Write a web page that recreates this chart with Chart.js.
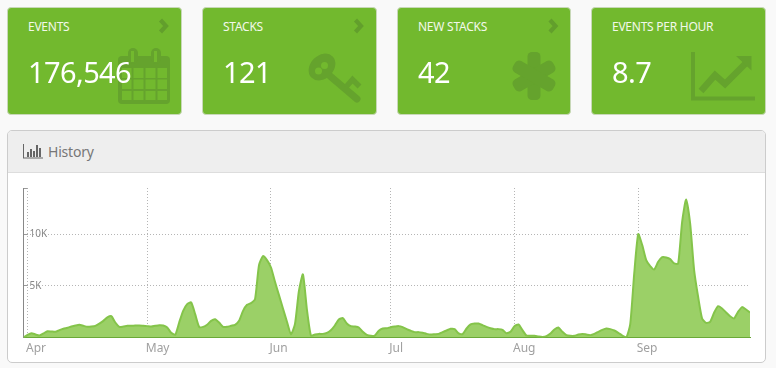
<!DOCTYPE html>
<html><head><meta charset="utf-8">
<script src="https://cdn.jsdelivr.net/npm/chart.js@4"></script>
<style>
html,body{margin:0;padding:0;background:#f9f9f9;width:776px;height:368px;overflow:hidden;font-family:"Noto Sans",sans-serif}
.card{position:absolute;top:7px;height:106px;background:#72b92e;border:1px solid #c8d8b8;border-radius:4px;box-sizing:content-box;overflow:hidden}
.ttl{position:absolute;left:20px;top:11px;font-size:12px;line-height:16px;color:#f2f8ea;letter-spacing:-.25px;white-space:nowrap}
.num{position:absolute;left:20px;top:44px;font-size:29px;line-height:40px;color:#fff;letter-spacing:-.6px;white-space:nowrap;z-index:2}
svg.ic{position:absolute;left:0;top:0;width:776px;height:368px;pointer-events:none}
#panel{position:absolute;left:7px;top:130px;width:757px;height:231px;background:#fff;border:1px solid #ccc;border-radius:5px;overflow:hidden}
#head{position:absolute;left:0;top:0;right:0;height:41px;background:#eee;border-bottom:1px solid #ddd}
#head span{position:absolute;left:40px;top:11px;font-size:14px;line-height:20px;color:#777;letter-spacing:-.2px}
#wrap{position:absolute;left:8px;top:174px;width:757px;height:188px}
</style></head><body>
<div class="card" style="left:7px;width:173px"><div class="ttl">EVENTS</div><div class="num">176,546</div></div>
<div class="card" style="left:202px;width:173px"><div class="ttl">STACKS</div><div class="num">121</div></div>
<div class="card" style="left:397px;width:172px"><div class="ttl">NEW STACKS</div><div class="num">42</div></div>
<div class="card" style="left:591px;width:173px"><div class="ttl">EVENTS PER HOUR</div><div class="num">8.7</div></div>
<div id="panel"><div id="head"><span>History</span></div></div>
<svg class="ic" viewBox="0 0 776 368" style="z-index:1">
 <g fill="none" stroke="#629f2c" stroke-width="4.200">
  <path d="M160.500 20l5.500 6-5.500 6"/><path d="M355.500 20l5.500 6-5.500 6"/><path d="M550 20l5.500 6-5.500 6"/>
 </g>
 <!-- calendar -->
 <g fill="#65a32d">
  <rect x="118" y="56" width="52" height="48" rx="4"/>
  <rect x="128" y="48" width="10" height="16" rx="5"/><rect x="151" y="48" width="10" height="16" rx="5"/>
 </g>
 <g fill="#72b92e">
  <rect x="131" y="51" width="3" height="11"/><rect x="154" y="51" width="3" height="11"/>
  <rect x="122" y="68" width="9.5" height="10"/><rect x="133.500" y="68" width="10" height="10"/><rect x="145.500" y="68" width="10" height="10"/><rect x="157.500" y="68" width="9.500" height="10"/>
  <rect x="122" y="79.500" width="9.5" height="9.500"/><rect x="133.500" y="79.500" width="10" height="9.500"/><rect x="145.500" y="79.500" width="10" height="9.500"/><rect x="157.500" y="79.500" width="9.500" height="9.500"/>
  <rect x="122" y="91" width="9.5" height="9"/><rect x="133.500" y="91" width="10" height="9"/><rect x="145.500" y="91" width="10" height="9"/><rect x="157.500" y="91" width="9.500" height="9"/>
 </g>
 <!-- key -->
 <g fill="none" stroke="#65a32d">
  <path d="M330 76l27 23" stroke-width="7" stroke-linecap="round"/>
  <path d="M346 87l6.500-7.500 7 7" stroke-width="5.500" stroke-linecap="butt"/>
 </g>
 <ellipse cx="322" cy="67" rx="11.500" ry="15" transform="rotate(45 322 67)" fill="#65a32d"/>
 <g fill="#72b92e"><circle cx="318.500" cy="71" r="3.500"/><circle cx="324.500" cy="65.500" r="3.500"/></g>
 <!-- asterisk -->
 <g fill="#65a32d">
  <rect x="527.500" y="52" width="13" height="48" rx="4.500"/>
  <rect x="527.500" y="53" width="13" height="46" rx="4.500" transform="rotate(60 534 76)"/>
  <rect x="527.500" y="53" width="13" height="46" rx="4.500" transform="rotate(120 534 76)"/>
 </g>
 <!-- growth -->
 <g fill="none" stroke="#65a32d">
  <path d="M693 52v46.500h62" stroke-width="4"/>
  <path d="M701 91l14-16 10 9 21-21" stroke-width="6.500"/>
 </g>
 <path d="M736 56h15.500v14.500z" fill="#65a32d"/>
 <!-- header icon -->
 <g fill="#666"><rect x="23" y="144" width="1" height="14"/><rect x="23" y="157.500" width="20" height="1"/>
  <rect x="27" y="152" width="2" height="5"/><rect x="30" y="149" width="2" height="8"/><rect x="33" y="151" width="2" height="6"/><rect x="36" y="145" width="2" height="12"/><rect x="39" y="148" width="2" height="9"/></g>
</svg>
<div id="wrap"><canvas id="c" width="757" height="188"></canvas></div>
<script>
const firstDay = -1;
const aprilValues = [0,260,420,290,190,390,610,580,550,710,840,940,1060,1160,1230,1130,1030,1060,1130,1350,1610,1940,2060,1450,1030,1060,1130,1130,1160,1160,1130];
const mayValues = [1100,1060,1130,1190,1160,970,450,260,1450,2580,3230,3390,2260,1030,1030,1230,1610,1770,1450,1030,1030,1130,1230,1610,2580,3160,3320,3710,7000,7870,7480];
const juneValues = [6770,5390,4100,2810,1520,320,1290,4500,6100,2700,190,290,350,350,450,710,1160,1740,1870,1350,1100,1060,970,550,260,160,190,650,870,900];
const julyValues = [1000,1060,1100,1000,810,650,520,520,450,350,290,320,350,520,680,840,810,390,320,870,1260,1350,1350,1190,1030,900,810,810,740,420,550];
const augustValues = [1100,1260,710,190,160,160,100,60,130,390,770,970,550,230,160,160,290,350,290,230,350,550,740,870,810,680,450,190,0,1300,6200];
const septemberValues = [10000,8940,7480,6900,6580,7320,7770,7740,7580,7160,7160,11190,13360,11030,6520,3940,1840,1420,1520,2390,3030,2810,2420,2060,1840,2480,2940,2710,2420];
const events = [...aprilValues,...mayValues,...juneValues,...julyValues,...augustValues,...septemberValues];
const monthStarts = [0,30,61,91,122,153];
const monthLabels = ['Apr','May','Jun','Jul','Aug','Sep'];
const yTicks = [0,5000,10000];
const yLabels = ['','5K','10K'];
const yTop = 14460;
const points = events.map((v,i)=>({x:firstDay+i,y:v}));
const xMax = firstDay+events.length-1;
const FONT = '"Noto Sans",sans-serif';
new Chart(document.getElementById('c'),{
 type:'line',
 data:{datasets:[{data:points,borderColor:'#84c44a',borderWidth:2,backgroundColor:'#9bd067',fill:'origin',pointRadius:0,tension:0.2}]},
 options:{responsive:false,animation:false,events:[],
  layout:{padding:{left:15.5,right:15,top:14,bottom:0}},
  plugins:{legend:{display:false},tooltip:{enabled:false}},
  scales:{
   x:{type:'linear',min:firstDay,max:xMax,
    afterBuildTicks:s=>{s.ticks=monthStarts.map(v=>({value:v}));},
    grid:{color:'#b5b5b5',lineWidth:1,tickLength:0,drawTicks:false},
    border:{color:'#64a432',dash:[1,2]},
    ticks:{autoSkip:false,maxRotation:0,align:'start',labelOffset:-1.5,padding:4,color:'#a0a0a0',font:{family:FONT,size:12},
     callback:v=>monthLabels[monthStarts.indexOf(v)]||''},
    afterFit:s=>{s.height=24.5;}
   },
   y:{min:0,max:yTop,
    afterBuildTicks:s=>{s.ticks=[...yTicks,yTop].map(v=>({value:v}));},
    grid:{color:c=>(c.tick.value===0||c.tick.value===yTop)?'rgba(0,0,0,0)':'#b5b5b5',tickLength:-4,tickColor:'#999',tickWidth:1,tickBorderDash:[]},
    border:{color:'#888',dash:[1,2]},
    ticks:{mirror:true,padding:6,color:'#888',font:{family:FONT,size:10},autoSkip:false,
     callback:v=>{const i=yTicks.indexOf(v);return i<0?'':yLabels[i];}},
    afterFit:s=>{s.width=0;}
   }
  }
 }
});
</script>
</body></html>
